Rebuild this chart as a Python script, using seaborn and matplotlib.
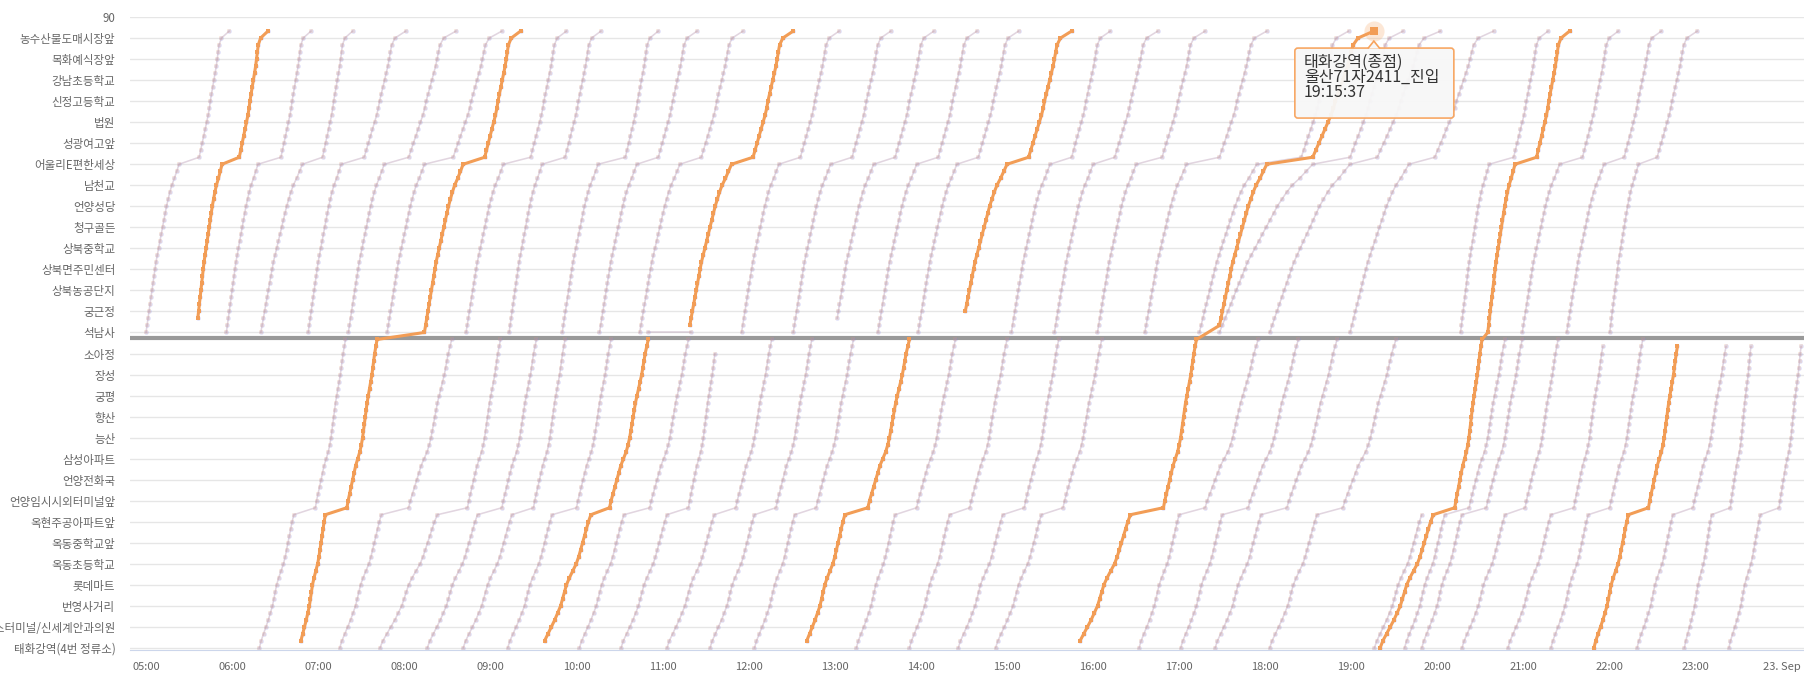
import matplotlib
matplotlib.use('Agg')
import pandas as pd
import seaborn as sns
import matplotlib.pyplot as plt
from matplotlib.patches import FancyBboxPatch, Polygon
from matplotlib.transforms import IdentityTransform

# stops shown on the y axis, bottom to top, one label every 3 units
stations = ['태화강역(4번 정류소)', '고속버스터미널/신세계안과의원', '번영사거리', '롯데마트', '옥동초등학교',
            '옥동중학교앞', '옥현주공아파트앞', '언양임시시외터미널앞', '언양전화국', '삼성아파트', '능산',
            '향산', '궁평', '장성', '소아정', '석남사', '궁근정', '상북농공단지', '상북면주민센터', '상북중학교',
            '청구골든', '언양성당', '남천교', '어울리E편한세상', '성광여고앞', '법원', '신정고등학교',
            '강남초등학교', '목화예식장앞', '농수산물도매시장앞']

# share of the running time reached at each stop
frac_down_a = [0, .05, .12, .19, .26, .32, .38, .42, .46, .50, .56, .63, .70, .75, .79, .83, .87, .91, .95, 1]
frac_down_c = [0, .04, .09, .14, .19, .24, .29, .36, .43, .48, .52, .55, .58, .61, .64, .67, .71, .75, .79,
               .83, .86, .89, .92, .96, 1]
frac_up_a = [0, .03, .06, .09, .12, .15, .18, .21, .24, .27, .30, .34, .38, .42, .46, .50, .54, .58, .62, .67,
             .72, .78, .86, .93, 1]
frac_up_c = [0, .05, .10, .15, .20, .25, .30, .34, .37, .41, .45, .49, .53, .57, .60, .63, .66, .74, 1]

# trips: time at section start, before the long hop, after it, at section end, first stop, last stop
lower_trips = [
    ('06:19', '06:43', '06:58', '07:19', 0, 44), ('07:15', '07:44', '08:03', '08:33', 0, 44),
    ('07:43', '08:23', '08:44', '09:07', 0, 44), ('08:16', '08:51', '09:08', '09:32', 0, 44),
    ('08:41', '09:15', '09:30', '09:52', 0, 44), ('09:12', '09:43', '10:00', '10:24', 0, 44),
    ('10:02', '10:33', '10:51', '11:18', 0, 44), ('10:31', '11:03', '11:18', '11:38', 0, 42),
    ('11:03', '11:36', '11:51', '12:16', 0, 44), ('11:33', '12:04', '12:19', '12:44', 0, 44),
    ('12:04', '12:32', '12:47', '13:13', 0, 44), ('13:15', '13:42', '13:57', '14:24', 0, 44),
    ('13:52', '14:20', '14:34', '15:00', 0, 44), ('14:26', '14:57', '15:12', '15:36', 0, 44),
    ('14:52', '15:24', '15:39', '16:06', 0, 44), ('16:32', '17:00', '17:18', '17:55', 0, 44),
    ('17:01', '17:30', '17:48', '18:23', 0, 44), ('17:25', '17:57', '18:15', '18:50', 0, 44),
    ('18:03', '18:36', '18:54', '19:31', 0, 44), ('19:16', '19:49', None, None, 0, 19),
    ('19:37', '20:05', '20:22', '20:47', 0, 44), ('19:49', '20:17', '20:34', '20:59', 0, 44),
    ('20:17', '20:47', '21:01', '21:24', 0, 44), ('20:49', '21:19', '21:35', '21:56', 0, 43),
    ('21:19', '21:45', '22:00', '22:23', 0, 44), ('22:19', '22:44', '22:58', '23:22', 0, 43),
    ('22:52', '23:11', '23:24', '23:39', 0, 43), ('23:23', '23:45', '23:58', '24:14', 0, 43),
]
upper_trips = [
    ('05:00', '05:23', '05:37', '05:58', 45, 88), ('05:56', '06:18', '06:34', '06:55', 45, 88),
    ('06:20', '06:49', '07:03', '07:24', 45, 88), ('06:53', '07:16', '07:32', '08:01', 45, 88),
    ('07:21', '07:46', '08:03', '08:36', 45, 88), ('07:48', '08:14', '08:34', '09:08', 45, 88),
    ('08:43', '09:09', '09:28', '09:53', 45, 88), ('09:13', '09:36', '09:52', '10:17', 45, 88),
    ('09:50', '10:15', '10:34', '10:57', 45, 88), ('10:16', '10:42', '10:57', '11:24', 45, 88),
    ('10:44', '11:12', '11:27', '11:56', 45, 88), ('11:55', '12:21', '12:36', '13:03', 45, 88),
    ('12:31', '12:57', '13:12', '13:39', 45, 88), ('13:00', '13:27', '13:42', '14:09', 47, 88),
    ('13:30', '13:57', '14:12', '14:39', 45, 88), ('13:58', '14:25', '14:40', '15:08', 45, 88),
    ('15:03', '15:30', '15:45', '16:12', 45, 88), ('15:33', '16:00', '16:15', '16:45', 45, 88),
    ('16:03', '16:30', '16:48', '17:18', 45, 88), ('16:36', '17:05', '17:28', '18:01', 45, 88),
    ('17:14', '17:54', '18:25', '18:58', 45, 88), ('17:28', '18:33', '18:59', '19:36', 45, 88),
    ('18:03', '18:59', '19:18', '20:02', 45, 88), ('18:59', '19:40', '19:58', '20:39', 45, 88),
    ('20:16', '20:36', '20:53', '21:17', 45, 88), ('20:59', '21:25', '21:41', '22:06', 45, 88),
    ('21:30', '21:56', '22:10', '22:36', 45, 88), ('22:00', '22:20', '22:33', '23:01', 45, 88),
]
# highlighted bus (울산71자2411); last flag = joined to the trip before it
bus_trips = [
    ('05:35', '05:53', '06:05', '06:25', 47, 88, False), ('06:47', '07:05', '07:20', '07:41', 1, 44, False),
    ('08:14', '08:41', '08:56', '09:21', 45, 88, True), ('09:36', '10:10', '10:23', '10:50', 1, 44, False),
    ('11:18', '11:48', '12:03', '12:31', 46, 88, False), ('12:39', '13:07', '13:23', '13:52', 1, 44, False),
    ('14:28', '15:00', '15:15', '15:45', 48, 88, False), ('15:49', '16:26', '16:49', '17:12', 1, 44, False),
    ('17:27', '18:01', '18:33', '19:15:37', 46, 88, True), ('19:20', '19:57', '20:12', '20:31', 0, 44, False),
    ('20:35', '20:54', '21:09', '21:32', 45, 88, True), ('21:49', '22:13', '22:27', '22:48', 0, 43, False),
]
bus_waits = [('10:50', '11:20', 45)]
tooltip_lines = ['태화강역(종점)', '울산71자2411_진입', '19:15:37']
hour_ticks = list(range(5, 25))
hour_labels = ['%02d:00' % h for h in range(5, 24)] + ['23. Sep']


def hh(s):
    p = [int(v) for v in s.split(':')]
    return p[0] + p[1] / 60 + (p[2] / 3600 if len(p) > 2 else 0)


def trip_points(trip):
    ta, tb, tc, td, first, last = trip[:6]
    if first < 45:
        base, fa, fc = 0, frac_down_a, frac_down_c
    else:
        base, fa, fc = 45, frac_up_a, frac_up_c
    pts = []
    for i, f in enumerate(fa):
        if first <= base + i <= last:
            pts.append((hh(ta) + f * (hh(tb) - hh(ta)), base + i))
    for i, f in enumerate(fc):
        s = base + len(fa) + i
        if first <= s <= last:
            pts.append((hh(tc) + f * (hh(td) - hh(tc)), s))
    return pts


rows = []
for k, trip in enumerate(lower_trips + upper_trips + bus_trips):
    rows += [('t%d' % k, x, y) for x, y in trip_points(trip)]
for k, (a, b, s) in enumerate(bus_waits):
    rows += [('w%d' % k, hh(a), s), ('w%d' % k, hh(b), s)]
light = pd.DataFrame(rows, columns=['trip', 'hour', 'stop'])

rows, seg = [], 0
for trip in bus_trips:
    if not trip[6]:
        seg += 1
    rows += [('b%d' % seg, x, y) for x, y in trip_points(trip)]
bus = pd.DataFrame(rows, columns=['trip', 'hour', 'stop'])

sns.set_style('white')
plt.rcParams['font.family'] = ['Noto Sans CJK KR', 'DejaVu Sans']

fig = plt.figure(figsize=(18.04, 6.75), dpi=100)
ax = fig.add_axes([130 / 1804, 25 / 675, 1674 / 1804, 633.3 / 675])

ax.axhline(44.2, color='#999999', lw=3, zorder=1.5)
sns.lineplot(data=light, x='hour', y='stop', units='trip', estimator=None, sort=False, ax=ax,
             color='#8085e9', alpha=0.26, lw=1.1, marker='o', markersize=3.3, markeredgewidth=0, legend=False)
sns.lineplot(data=light, x='hour', y='stop', units='trip', estimator=None, sort=False, ax=ax,
             color='#f7a35c', alpha=0.16, lw=1.1, marker='s', markersize=2.6, markeredgewidth=0, legend=False)
sns.lineplot(data=bus, x='hour', y='stop', units='trip', estimator=None, sort=False, ax=ax,
             color='#f29d56', lw=2.2, marker='s', markersize=3.4, markeredgewidth=0, legend=False)

ax.set_xlim(4.814, 24.256)
ax.set_ylim(-0.3, 90.05)
ax.set_yticks(range(0, 91, 3))
ax.set_yticklabels(stations + ['90'])
ax.set_xticks(hour_ticks)
ax.set_xticklabels(hour_labels)
ax.set_xlabel('')
ax.set_ylabel('')
ax.yaxis.grid(True, color='#e6e6e6', lw=1)
ax.xaxis.grid(False)
for side in ['top', 'right', 'left']:
    ax.spines[side].set_visible(False)
ax.spines['bottom'].set_color('#ccd6eb')
ax.tick_params(axis='y', length=0, pad=10.5, labelsize=8.3, labelcolor='#666666')
ax.tick_params(axis='x', length=7, width=1, color='#ccd6eb', pad=1.5, labelsize=8, labelcolor='#666666')

# hovered point and its tooltip
px, py = hh(bus_trips[8][3]), bus_trips[8][5]
ax.scatter([px], [py], s=210, color='#f7a35c', alpha=0.25, lw=0, zorder=5)
ax.scatter([px], [py], s=34, marker='s', color='#f29d56', lw=0, zorder=6)
fig.canvas.draw()
X, Y = ax.transData.transform((px, py))
bx, by, bw, bh = X - 79, Y - 87, 159, 70
fig.patches.append(FancyBboxPatch((bx, by), bw, bh, boxstyle='round,pad=0,rounding_size=3',
                                  transform=IdentityTransform(), fc='#f7f7f7', ec='#f7a35c', lw=1.2,
                                  alpha=0.95, figure=fig))
fig.patches.append(Polygon([(X - 6, by + bh - 0.5), (X, by + bh + 7), (X + 6, by + bh - 0.5)],
                           closed=False, transform=IdentityTransform(), fc='#f7f7f7', ec='#f7a35c',
                           lw=1.2, figure=fig))
fig.text((bx + 9) / 1804, (by + bh - 6) / 675, '\n'.join(tooltip_lines), va='top', ha='left',
         fontsize=11.5, color='#333333', linespacing=0.85)

fig.savefig('out.png', dpi=100)
